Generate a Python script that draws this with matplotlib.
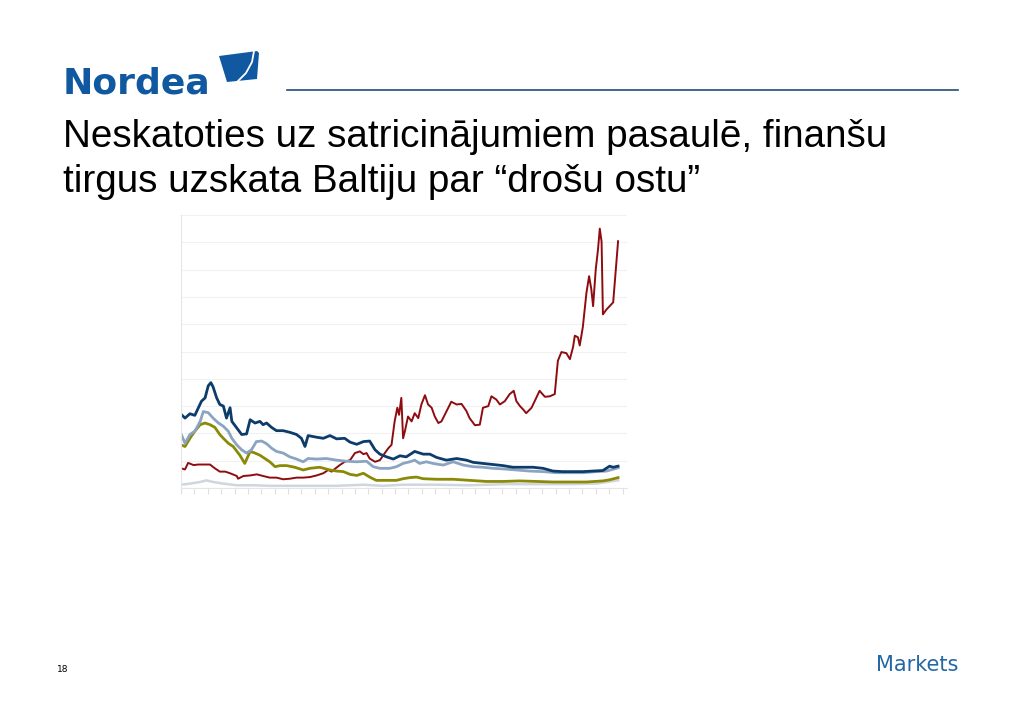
import numpy as np
import matplotlib.pyplot as plt
from matplotlib.patches import Polygon

# x is a time index (0..100 across the plot), y in basis points
navy_x = [0, 0.9, 2.0, 3.1, 3.9, 4.6, 5.4, 6.1, 6.7, 7.2, 8.0, 8.7, 9.5, 10.2, 11.0, 11.4, 12.5, 13.6,
          14.7, 15.5, 16.6, 17.7, 18.4, 19.2, 20.3, 21.4, 22.9, 24.4, 25.9, 27.0, 27.8, 28.5, 30.4,
          31.9, 33.4, 34.9, 36.7, 37.9, 39.4, 40.9, 42.3, 43.5, 44.6, 46.1, 47.6, 49.1, 50.5, 52.4,
          54.3, 55.8, 57.3, 59.5, 61.8, 64.0, 65.5, 67.7, 70.0, 72.2, 74.4, 76.7, 78.9, 81.2, 83.4,
          85.6, 87.9, 90.1, 92.3, 94.6, 96.1, 96.9, 98.0]
navy_y = [135, 128, 136, 133, 147, 159, 165, 187, 193, 185, 165, 153, 150, 128, 147, 122, 110, 98,
          99, 125, 119, 122, 116, 119, 111, 105, 105, 102, 98, 91, 76, 96, 93,
          91, 96, 90, 91, 84, 80, 85, 86, 70, 62, 57, 53, 59, 57, 67,
          62, 62, 56, 51, 54, 51, 47, 45, 43, 41, 38, 38, 38, 36, 31,
          30, 30, 30, 31, 32, 40, 38, 40]

steel_x = [0, 0.9, 2.0, 3.1, 4.3, 5.0, 6.1, 7.2, 8.4, 9.5, 10.6, 11.4, 12.5, 13.6, 14.7, 15.8, 16.9,
           18.1, 19.2, 20.3, 21.4, 22.9, 24.4, 25.9, 27.4, 28.5, 30.4, 32.6, 34.9, 37.1, 39.4, 41.6,
           43.1, 44.6, 46.8, 48.3, 49.8, 51.3, 52.4, 53.5, 55.0, 56.5, 58.8, 61.0, 63.3, 65.5, 67.7,
           70.0, 72.2, 75.2, 78.2, 81.2, 84.2, 87.2, 90.1, 93.1, 95.4, 98.0]
steel_y = [99, 82, 98, 104, 122, 140, 138, 128, 119, 113, 104, 91, 79, 70, 64, 70, 85,
           86, 81, 73, 67, 64, 57, 53, 48, 54, 53, 54, 51, 49, 48, 49,
           39, 36, 36, 39, 45, 48, 51, 45, 48, 45, 42, 48, 42, 39, 38,
           36, 35, 33, 31, 30, 28, 28, 28, 30, 31, 37]

olive_x = [0, 0.9, 2.0, 3.1, 4.3, 5.4, 6.5, 7.6, 8.7, 9.5, 10.6, 11.7, 13.2, 14.3, 15.5, 16.6, 17.7,
           18.8, 19.9, 21.1, 22.2, 23.7, 25.5, 27.4, 28.9, 31.1, 33.4, 34.9, 36.4, 37.9, 39.4, 40.9,
           42.3, 43.8, 46.1, 48.3, 49.8, 51.3, 52.8, 54.3, 57.3, 61.0, 64.7, 68.5, 72.2, 75.9, 79.7,
           83.4, 87.2, 90.9, 94.6, 96.1, 98.0]
olive_y = [79, 76, 91, 104, 116, 119, 116, 111, 98, 91, 82, 76, 60, 45, 67, 64, 60,
           54, 48, 39, 41, 41, 38, 33, 36, 38, 33, 31, 30, 25, 23, 27,
           20, 14, 14, 14, 17, 19, 20, 17, 16, 16, 14, 12, 12, 13, 12,
           11, 11, 11, 13, 15, 19]

gray_x = [0, 2.0, 4.3, 5.7, 7.2, 9.5, 12.5, 16.2, 19.9, 27.4, 34.9, 40.9, 45.3, 49.8, 57.3, 64.7,
          72.2, 79.7, 87.2, 93.1, 98.0]
gray_y = [6, 8, 11, 14, 11, 8, 5, 5, 4, 4, 4, 6, 4, 6, 6, 5,
          7, 7, 7, 8, 14]

red_x = [0, 0.9, 1.6, 2.8, 3.9, 5.0, 6.5, 7.6, 8.7, 9.9, 11.0, 12.5, 12.8, 14.0, 15.5, 17.0, 18.4,
         19.9, 21.4, 22.9, 24.4, 25.9, 27.4, 28.9, 30.4, 31.9, 33.0, 33.8, 34.5, 35.6, 36.7, 37.9,
         39.0, 40.1, 40.9, 41.6, 42.3, 43.5, 44.6, 45.7, 46.5, 47.2, 47.9, 48.5, 48.9, 49.4, 49.8,
         50.2, 50.9, 51.7, 52.4, 53.2, 53.9, 54.7, 55.4, 56.2, 56.9, 57.7, 58.4, 59.5, 60.6, 61.8,
         62.9, 64.0, 64.7, 65.9, 67.0, 67.7, 68.9, 69.6, 70.7, 71.5, 72.6, 73.7, 74.6, 75.2, 76.0,
         76.7, 77.4, 78.6, 79.3, 80.4, 81.6, 82.7, 83.8, 84.5, 85.3, 86.4, 87.2, 87.9, 88.3, 89.0,
         89.4, 90.1, 90.9, 91.5, 92.0, 92.4, 93.0, 93.5, 93.9, 94.3, 94.6, 95.4, 96.1, 96.9, 97.5,
         98.0]
red_y = [36, 34, 46, 42, 43, 43, 43, 36, 30, 30, 27, 22, 17, 22, 23, 25, 22,
         19, 19, 16, 17, 19, 19, 20, 23, 27, 33, 30, 35, 42, 48, 51,
         64, 67, 62, 64, 54, 48, 51, 64, 73, 79, 122, 147, 134, 165, 91,
         104, 131, 122, 137, 128, 153, 170, 153, 147, 131, 119, 122, 140, 158, 153,
         154, 141, 128, 115, 116, 147, 150, 168, 162, 153, 159, 172, 178, 159, 150,
         144, 137, 147, 159, 178, 167, 168, 172, 233, 249, 247, 236, 258, 279, 276,
         261, 295, 357, 388, 364, 333, 401, 437, 475, 451, 318, 327, 333, 340, 401,
         452]


def px(x, y):
    # slide pixel -> figure fraction
    return (x / 1024, 1 - y / 724)


fig = plt.figure(figsize=(10.24, 7.24), dpi=100)
fig.patch.set_facecolor('white')

# slide header: logo, rule, title
fig.text(*px(63, 94), 'Nordea', fontsize=26, fontweight='bold',
         color='#1059a0', family='DejaVu Sans', va='baseline')
sail = Polygon([px(219, 56), px(257, 51), px(259, 53), px(257, 79), px(227, 82)],
               closed=True, transform=fig.transFigure, facecolor='#1059a0', edgecolor='none')
fig.patches.append(sail)
fig.add_artist(plt.Line2D([px(254, 51)[0], px(252, 62)[0], px(246, 73)[0], px(236, 83)[0]],
                          [px(254, 51)[1], px(252, 62)[1], px(246, 73)[1], px(236, 83)[1]],
                          transform=fig.transFigure, color='white', lw=1.3))
fig.add_artist(plt.Line2D([px(287, 90)[0], px(958, 90)[0]], [px(287, 90)[1], px(958, 90)[1]],
                          transform=fig.transFigure, color='#1f4e79', lw=1.2))
fig.text(*px(63, 147), 'Neskatoties uz satricinājumiem pasaulē, finanšu',
         fontsize=27.8, family='Liberation Sans', color='black', va='baseline')
fig.text(*px(63, 192), 'tirgus uzskata Baltiju par “drošu ostu”',
         fontsize=27.8, family='Liberation Sans', color='black', va='baseline')

# footer
fig.text(*px(57, 672), '18', fontsize=6.5, family='DejaVu Sans', color='black', va='baseline')
fig.text(*px(958, 671), 'Markets', fontsize=15, family='DejaVu Sans',
         color='#2368a6', ha='right', va='baseline')

ax = fig.add_axes([181 / 1024, 236 / 724, 446 / 1024, 273 / 724])
ax.plot(gray_x, gray_y, color='#cfd6de', lw=1.8)
ax.plot(red_x, red_y, color='#8e0c10', lw=1.4)
ax.plot(olive_x, olive_y, color='#8a8a06', lw=2.0)
ax.plot(steel_x, steel_y, color='#8aa4c2', lw=2.0)
ax.plot(navy_x, navy_y, color='#0d3c6b', lw=2.0)

ax.set_xlim(0, 100)
ax.set_ylim(0, 500)
ax.set_yticks(np.arange(0, 501, 50))
ax.set_xticks(np.arange(0, 101, 3))
ax.set_xticklabels([])
ax.set_yticklabels([])
ax.grid(axis='y', color='#f1f1f1', lw=0.8)
ax.set_axisbelow(True)
ax.tick_params(axis='x', direction='out', length=4, color='#e0e0e0')
ax.tick_params(axis='y', length=0)
for side in ['top', 'right']:
    ax.spines[side].set_visible(False)
ax.spines['left'].set_color('#e6e6e6')
ax.spines['bottom'].set_color('#e6e6e6')

fig.savefig('out.png', dpi=100)
